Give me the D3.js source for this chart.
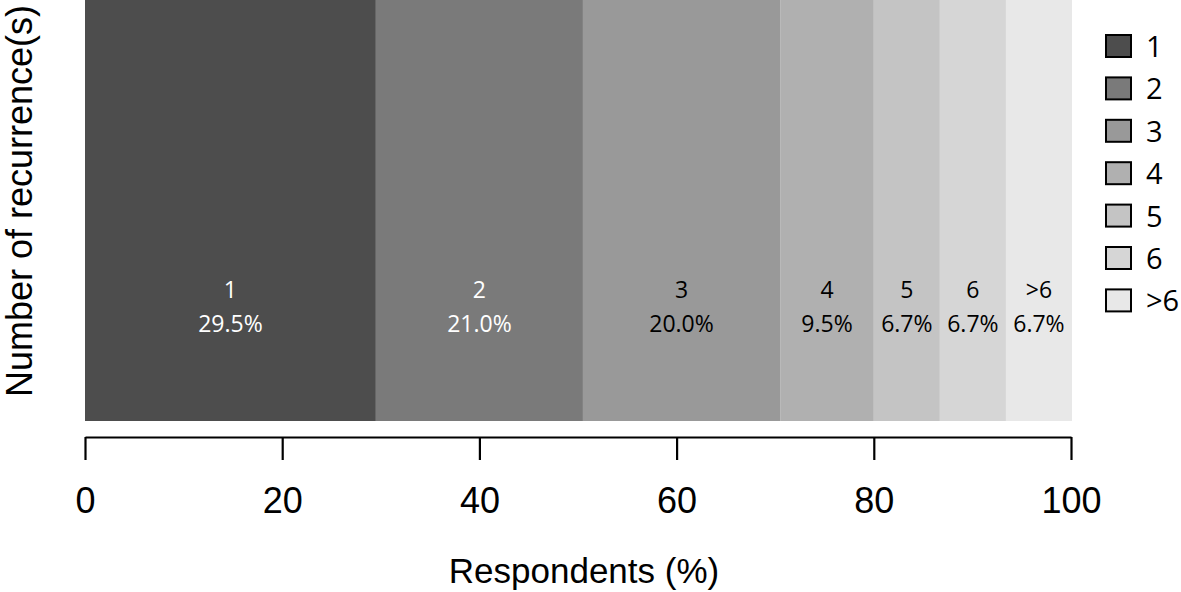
<!DOCTYPE html>
<html>
<head>
<meta charset="utf-8">
<script src="https://cdn.jsdelivr.net/npm/d3@7"></script>
<style>
  body { margin: 0; background: #fff; }
  svg { display: block; }
</style>
</head>
<body>
<script>
// data
var categories = ["1", "2", "3", "4", "5", "6", ">6"];
var percents = [29.5, 21.0, 20.0, 9.5, 6.7, 6.7, 6.7];
var colours = ["#4d4d4d", "#7a7a7a", "#999999", "#b0b0b0", "#c4c4c4", "#d6d6d6", "#e8e8e8"];
var labelColours = ["#fff", "#fff", "#000", "#000", "#000", "#000", "#000"];
var xTicks = [0, 20, 40, 60, 80, 100];

var W = 1181, H = 592;
var svg = d3.select("body").append("svg").attr("width", W).attr("height", H);

var xScale = d3.scaleLinear().domain([0, 100]).range([85, 1071]);
var barTop = 0, barBottom = 421;

// cumulative starts
var starts = [];
var acc = 0;
percents.forEach(function(p){ starts.push(acc); acc += p; });

var segs = svg.append("g").selectAll("g").data(categories).enter().append("g");
segs.append("rect")
  .attr("x", function(d, i){ return xScale(starts[i]); })
  .attr("y", barTop)
  .attr("width", function(d, i){ return xScale(starts[i] + percents[i]) - xScale(starts[i]); })
  .attr("height", barBottom - barTop)
  .attr("fill", function(d, i){ return colours[i]; });

var lblFont = "'Open Sans', 'Noto Sans', sans-serif";
var axFont = "'Liberation Sans', Arial, sans-serif";
segs.append("text")
  .attr("x", function(d, i){ return xScale(starts[i] + percents[i] / 2); })
  .attr("y", 298)
  .attr("text-anchor", "middle")
  .attr("font-family", lblFont).attr("font-size", 23)
  .attr("fill", function(d, i){ return labelColours[i]; })
  .text(function(d){ return d; });
segs.append("text")
  .attr("x", function(d, i){ return xScale(starts[i] + percents[i] / 2); })
  .attr("y", 332)
  .attr("text-anchor", "middle")
  .attr("font-family", lblFont).attr("font-size", 23)
  .attr("fill", function(d, i){ return labelColours[i]; })
  .text(function(d, i){ return percents[i].toFixed(1) + "%"; });

// x axis
var xAxis = d3.axisBottom(xScale).tickValues(xTicks).tickSize(23).tickSizeOuter(0);
var gx = svg.append("g").attr("transform", "translate(0,437)").call(xAxis);
gx.select(".domain").attr("stroke", "#000").attr("stroke-width", 2.2);
gx.selectAll(".tick line").attr("stroke", "#000").attr("stroke-width", 2.2);
gx.selectAll(".tick text").attr("y", 76).attr("dy", 0)
  .attr("font-family", axFont).attr("font-size", 36).attr("fill", "#000");

// axis titles
svg.append("text").attr("x", 584).attr("y", 583).attr("text-anchor", "middle")
  .attr("font-family", axFont).attr("font-size", 35)
  .text("Respondents (%)");
svg.append("text").attr("text-anchor", "middle")
  .attr("transform", "translate(32,201)rotate(-90)")
  .attr("font-family", axFont).attr("font-size", 36)
  .text("Number of recurrence(s)");

// legend
var legend = svg.append("g").selectAll("g").data(categories).enter().append("g")
  .attr("transform", function(d, i){ return "translate(1106," + (35 + i * 42.4) + ")"; });
legend.append("rect").attr("width", 25).attr("height", 22)
  .attr("fill", function(d, i){ return colours[i]; })
  .attr("stroke", "#000").attr("stroke-width", 2);
legend.append("text").attr("x", 40).attr("y", 22)
  .attr("font-family", lblFont).attr("font-size", 29).attr("fill", "#000")
  .text(function(d){ return d; });
</script>
</body>
</html>
